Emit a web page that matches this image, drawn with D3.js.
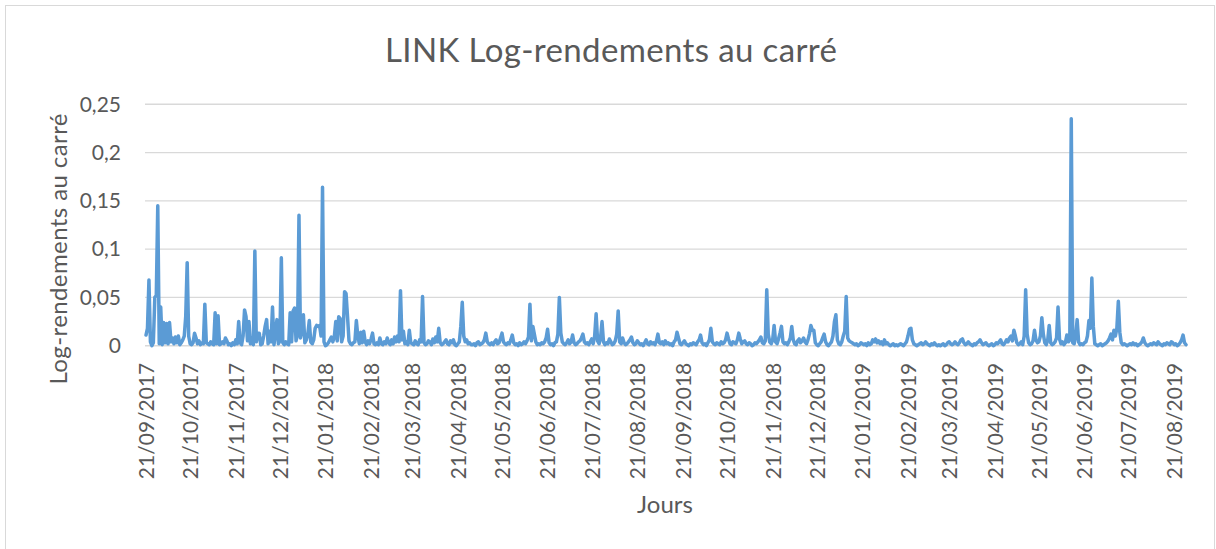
<!DOCTYPE html>
<html>
<head>
<meta charset="utf-8">
<script src="https://cdn.jsdelivr.net/npm/d3@7"></script>
<style>
  html, body { margin: 0; padding: 0; background: #ffffff; }
  svg { display: block; }
  text { font-family: Lato, "Open Sans", sans-serif; fill: #595959; }
</style>
</head>
<body>
<svg id="chart" width="1216" height="549"></svg>
<script>
// ---- data ----
const chartTitle = "LINK Log-rendements au carré";
const yAxisTitle = "Log-rendements au carré";
const xAxisTitle = "Jours";
const firstDay = "2017-09-21"; // first daily observation
const yTicks = [0, 0.05, 0.1, 0.15, 0.2, 0.25];
const yTickLabels = ["0", "0,05", "0,1", "0,15", "0,2", "0,25"];
const xTickLabels = ["21/09/2017","21/10/2017","21/11/2017","21/12/2017","21/01/2018","21/02/2018",
  "21/03/2018","21/04/2018","21/05/2018","21/06/2018","21/07/2018","21/08/2018","21/09/2018",
  "21/10/2018","21/11/2018","21/12/2018","21/01/2019","21/02/2019","21/03/2019","21/04/2019",
  "21/05/2019","21/06/2019","21/07/2019","21/08/2019"];
// daily squared log-returns (one per day starting at firstDay)
const squaredLogReturns = [
0.011,0.018,0.068,0.004,0.000,0.003,0.050,0.052,0.145,0.002,
0.040,0.001,0.024,0.003,0.023,0.002,0.024,0.004,0.008,0.002,
0.009,0.003,0.010,0.001,0.003,0.006,0.010,0.030,0.086,0.010,
0.002,0.001,0.003,0.013,0.008,0.002,0.005,0.001,0.003,0.002,
0.043,0.003,0.002,0.001,0.004,0.002,0.001,0.034,0.002,0.031,
0.001,0.002,0.004,0.002,0.008,0.005,0.001,0.002,0.000,0.003,
0.001,0.006,0.002,0.025,0.003,0.001,0.010,0.037,0.030,0.005,
0.025,0.002,0.008,0.001,0.098,0.004,0.013,0.013,0.001,0.002,
0.010,0.020,0.027,0.002,0.015,0.004,0.040,0.001,0.012,0.027,
0.002,0.005,0.091,0.003,0.001,0.004,0.002,0.001,0.034,0.004,
0.036,0.039,0.005,0.012,0.135,0.008,0.015,0.032,0.003,0.006,
0.012,0.026,0.004,0.002,0.006,0.018,0.021,0.020,0.021,0.010,
0.164,0.004,0.000,0.001,0.003,0.006,0.009,0.004,0.009,0.025,
0.005,0.030,0.028,0.004,0.010,0.056,0.054,0.030,0.005,0.002,
0.001,0.003,0.004,0.026,0.010,0.002,0.014,0.003,0.015,0.004,
0.001,0.005,0.002,0.007,0.013,0.002,0.001,0.003,0.001,0.008,
0.002,0.001,0.004,0.002,0.008,0.003,0.001,0.006,0.002,0.009,
0.004,0.010,0.004,0.057,0.006,0.015,0.002,0.004,0.001,0.016,
0.003,0.002,0.001,0.005,0.002,0.001,0.006,0.004,0.051,0.003,
0.001,0.002,0.005,0.004,0.001,0.007,0.003,0.009,0.004,0.018,
0.003,0.001,0.002,0.004,0.006,0.002,0.001,0.005,0.003,0.006,
0.001,0.000,0.002,0.004,0.020,0.045,0.010,0.004,0.006,0.002,
0.003,0.001,0.001,0.002,0.000,0.003,0.004,0.001,0.002,0.003,
0.006,0.013,0.004,0.002,0.001,0.003,0.001,0.004,0.006,0.002,
0.003,0.008,0.013,0.004,0.002,0.001,0.003,0.002,0.006,0.011,
0.003,0.001,0.002,0.000,0.003,0.001,0.002,0.004,0.002,0.005,
0.009,0.043,0.005,0.020,0.012,0.004,0.001,0.002,0.001,0.003,
0.002,0.004,0.008,0.017,0.003,0.001,0.002,0.000,0.003,0.004,
0.012,0.050,0.013,0.004,0.002,0.001,0.003,0.006,0.002,0.004,
0.011,0.003,0.001,0.002,0.004,0.005,0.008,0.012,0.004,0.002,
0.003,0.001,0.004,0.007,0.002,0.010,0.033,0.005,0.002,0.008,
0.025,0.004,0.001,0.003,0.002,0.007,0.004,0.001,0.002,0.005,
0.012,0.036,0.004,0.002,0.008,0.003,0.001,0.002,0.004,0.006,
0.009,0.003,0.001,0.002,0.005,0.003,0.001,0.002,0.000,0.003,
0.006,0.002,0.001,0.004,0.002,0.003,0.001,0.005,0.012,0.003,
0.002,0.004,0.001,0.005,0.002,0.003,0.001,0.002,0.000,0.004,
0.006,0.014,0.008,0.002,0.001,0.003,0.005,0.002,0.001,0.000,
0.002,0.001,0.003,0.002,0.001,0.004,0.006,0.011,0.003,0.001,
0.002,0.000,0.003,0.006,0.018,0.004,0.002,0.001,0.003,0.002,
0.001,0.004,0.002,0.003,0.006,0.013,0.007,0.002,0.001,0.004,
0.003,0.002,0.006,0.013,0.007,0.002,0.004,0.005,0.002,0.001,
0.003,0.002,0.000,0.001,0.003,0.002,0.004,0.006,0.009,0.003,
0.002,0.005,0.058,0.012,0.004,0.002,0.006,0.021,0.004,0.002,
0.007,0.013,0.020,0.004,0.002,0.003,0.001,0.004,0.008,0.020,
0.006,0.002,0.001,0.005,0.007,0.003,0.005,0.008,0.004,0.002,
0.006,0.012,0.021,0.016,0.016,0.003,0.001,0.000,0.002,0.004,
0.008,0.012,0.004,0.001,0.000,0.002,0.004,0.010,0.025,0.032,
0.006,0.002,0.001,0.004,0.010,0.015,0.051,0.008,0.005,0.004,
0.003,0.002,0.001,0.002,0.000,0.001,0.003,0.002,0.001,0.002,
0.000,0.003,0.001,0.002,0.006,0.004,0.007,0.003,0.005,0.002,
0.004,0.001,0.006,0.002,0.003,0.001,0.000,0.001,0.002,0.000,
0.001,0.000,0.001,0.002,0.001,0.000,0.002,0.004,0.010,0.017,
0.018,0.006,0.002,0.001,0.000,0.001,0.002,0.003,0.001,0.002,
0.004,0.002,0.001,0.000,0.002,0.001,0.003,0.001,0.000,0.001,
0.000,0.001,0.002,0.000,0.001,0.003,0.004,0.002,0.001,0.002,
0.004,0.002,0.001,0.003,0.006,0.007,0.003,0.001,0.002,0.004,
0.002,0.001,0.000,0.002,0.001,0.003,0.004,0.006,0.003,0.001,
0.002,0.003,0.001,0.000,0.001,0.002,0.000,0.001,0.003,0.002,
0.004,0.006,0.002,0.001,0.003,0.006,0.004,0.008,0.010,0.005,
0.016,0.010,0.003,0.001,0.002,0.004,0.001,0.010,0.058,0.012,
0.003,0.001,0.002,0.005,0.016,0.006,0.003,0.004,0.010,0.029,
0.012,0.003,0.001,0.006,0.021,0.003,0.001,0.002,0.004,0.008,
0.040,0.007,0.002,0.004,0.001,0.003,0.011,0.004,0.006,0.235,
0.003,0.002,0.010,0.027,0.004,0.001,0.002,0.001,0.003,0.004,
0.010,0.026,0.018,0.070,0.020,0.002,0.001,0.000,0.001,0.002,
0.000,0.001,0.002,0.003,0.005,0.008,0.012,0.006,0.016,0.010,
0.018,0.046,0.014,0.003,0.001,0.002,0.001,0.000,0.001,0.002,
0.001,0.003,0.001,0.002,0.000,0.001,0.002,0.004,0.008,0.003,
0.001,0.000,0.001,0.002,0.001,0.003,0.002,0.001,0.004,0.002,
0.001,0.000,0.002,0.001,0.003,0.002,0.001,0.004,0.003,0.001,
0.002,0.000,0.001,0.003,0.006,0.011,0.003,0.001
];

// ---- layout ----
const W = 1216, H = 549;
const plot = { left: 146, right: 1186, top: 104.3, bottom: 345.7 };

const svg = d3.select("#chart");
svg.append("rect").attr("x", 0).attr("y", 0).attr("width", W).attr("height", H).attr("fill", "#fff");
svg.append("rect").attr("x", 5.5).attr("y", 5.5).attr("width", 1209).attr("height", 600)
  .attr("fill", "none").attr("stroke", "#d9d9d9").attr("stroke-width", 1);

const parseDay = d3.utcParse("%Y-%m-%d");
const parseLabel = d3.utcParse("%d/%m/%Y");
const fmtLabel = d3.utcFormat("%d/%m/%Y");
const start = parseDay(firstDay);
const data = squaredLogReturns.map((v, i) => ({ date: d3.utcDay.offset(start, i), value: v }));

const x = d3.scaleUtc()
  .domain([data[0].date, data[data.length - 1].date])
  .range([plot.left, plot.right]);
const y = d3.scaleLinear().domain([0, 0.25]).range([plot.bottom, plot.top]);

// gridlines
svg.append("g")
  .selectAll("line").data(yTicks).join("line")
  .attr("x1", 145).attr("x2", plot.right + 1)
  .attr("y1", d => y(d)).attr("y2", d => y(d))
  .attr("stroke", "#d9d9d9").attr("stroke-width", 1.4);

// y axis labels
const yAxis = d3.axisLeft(y).tickValues(yTicks)
  .tickFormat((d, i) => yTickLabels[i]).tickSize(0).tickPadding(24);
const gy = svg.append("g").attr("transform", `translate(145,0)`).call(yAxis);
gy.select(".domain").remove();
gy.selectAll("text").attr("font-size", 21).attr("font-family", "Lato, sans-serif").attr("fill", "#595959");

// x axis labels
const xAxis = d3.axisBottom(x).tickValues(xTickLabels.map(parseLabel))
  .tickFormat(fmtLabel).tickSize(0);
const gx = svg.append("g").attr("transform", `translate(0,${plot.bottom})`).call(xAxis);
gx.select(".domain").remove();
gx.selectAll("text")
  .attr("font-size", 21).attr("font-family", "Lato, sans-serif").attr("fill", "#595959")
  .attr("transform", "rotate(-90)")
  .attr("text-anchor", "end")
  .attr("x", -17).attr("y", 0).attr("dy", "0.35em");

// line
const line = d3.line().x(d => x(d.date)).y(d => y(d.value));
svg.append("path").datum(data)
  .attr("d", line)
  .attr("fill", "none")
  .attr("stroke", "#5b9bd5")
  .attr("stroke-width", 3.5)
  .attr("stroke-linejoin", "round")
  .attr("stroke-linecap", "round");

// title
svg.append("text").attr("x", 611).attr("y", 62)
  .attr("text-anchor", "middle").attr("font-size", 33)
  .attr("textLength", 452)
  .text(chartTitle);

// y title
svg.append("text")
  .attr("transform", "translate(57,249) rotate(-90)")
  .attr("text-anchor", "middle").attr("dominant-baseline", "central")
  .attr("font-size", 24).attr("textLength", 271)
  .text(yAxisTitle);

// x title
svg.append("text").attr("x", 665).attr("y", 513)
  .attr("text-anchor", "middle").attr("font-size", 24)
  .text(xAxisTitle);
</script>
</body>
</html>
